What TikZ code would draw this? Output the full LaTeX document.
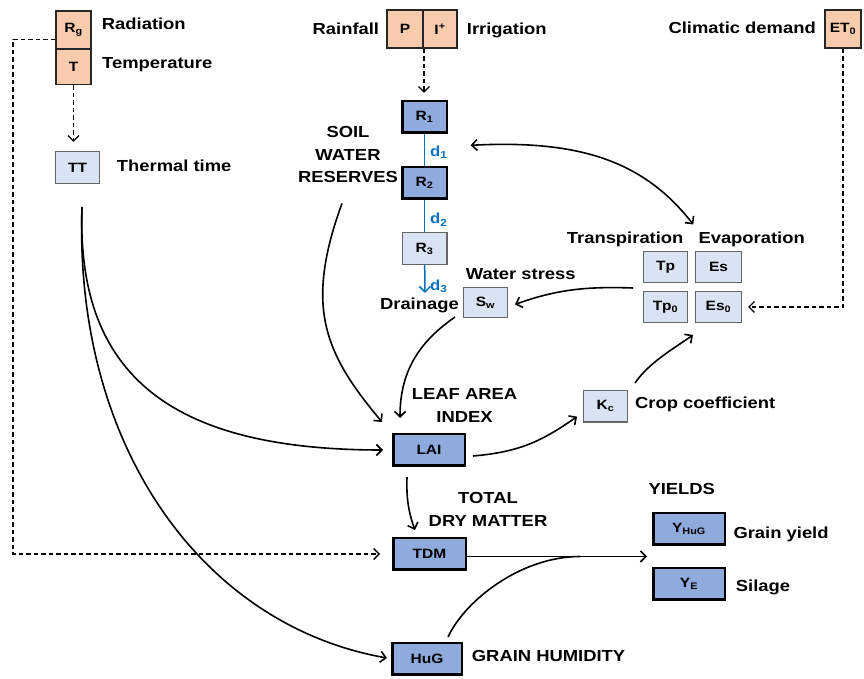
\documentclass[tikz,border=0pt]{standalone}
\usepackage{fontspec}
\setmainfont{Liberation Sans}[FakeStretch=1.15]
\usetikzlibrary{calc}
\usetikzlibrary{arrows.meta}
\usetikzlibrary{positioning}

\definecolor{climfill}{HTML}{F8CBAD}
\definecolor{statefill}{HTML}{8FAADC}
\definecolor{auxfill}{HTML}{DAE3F3}
\definecolor{drainblue}{HTML}{0070C0}

\newcommand{\lblfont}{\fontsize{16}{22.5}\selectfont\bfseries}
\newcommand{\boxfont}{\fontsize{13.5}{16}\selectfont\bfseries}
\newcommand{\dfont}{\fontsize{14.5}{16}\selectfont\bfseries}

\begin{document}
\begin{tikzpicture}[x=1pt, y=1pt,
        >={Straight Barb[length=5.5pt,width=11pt]},
        clim/.style={draw=black!85, fill=climfill, line width=1.7pt, font=\boxfont, inner sep=0pt},
        state/.style={draw=black, fill=statefill, line width=2.5pt, font=\boxfont, inner sep=0pt},
        aux/.style={draw=black!60, fill=auxfill, line width=1.2pt, font=\boxfont, inner sep=0pt},
        lbl/.style={font=\lblfont, inner sep=0pt, anchor=base west},
        lblc/.style={font=\lblfont, inner sep=0pt, align=center},
        dlbl/.style={font=\dfont, text=drainblue, inner sep=0pt, anchor=base west},
        link/.style={->, line width=1.6pt},
        feed/.style={->, dash pattern=on 4.5pt off 3pt, line width=1.4pt},
        water/.style={draw=drainblue, line width=1.5pt}]
    \useasboundingbox (0,0) rectangle (864,679);

    % Climate inputs
    \node[clim, minimum width=35.3, minimum height=37.8] (rg) at (73.5,648.75) {R\textsubscript{g}};
    \node[clim, minimum width=35.3, minimum height=35.3, below=-1.7pt of rg] (temp) {T};
    \node[clim, minimum width=36.3, minimum height=38.3] (rain) at (405,650) {P};
    \node[clim, minimum width=33.8, minimum height=38.3, right=-1.7pt of rain] (irr) {I\textsuperscript{+}};
    \node[clim, minimum width=36.3, minimum height=38.3] (et) at (843,650) {ET\textsubscript{0}};

    % Soil water reservoirs
    \node[state, minimum width=44.5, minimum height=31.5] (rone) at (424.5,562) {R\textsubscript{1}};
    \node[state, minimum width=44.5, minimum height=31.5, below=32pt of rone] (rtwo) {R\textsubscript{2}};
    \node[aux, minimum width=44.8, minimum height=31.8, below=32pt of rtwo] (rthree) {R\textsubscript{3}};

    % Auxiliary variables
    \node[aux, minimum width=43.8, minimum height=31.8] (tt) at (77.5,511.5) {TT};
    \node[aux, minimum width=43.8, minimum height=29.8] (sw) at (485.5,376.5) {S\textsubscript{w}};
    \node[aux, minimum width=43.8, minimum height=30.8] (tp) at (665.5,412) {Tp};
    \node[aux, minimum width=45.8, minimum height=30.8, right=7pt of tp] (es) {Es};
    \node[aux, minimum width=43.8, minimum height=30.8, below=8pt of tp] (tpz) {Tp\textsubscript{0}};
    \node[aux, minimum width=45.8, minimum height=30.8, below=8pt of es] (esz) {Es\textsubscript{0}};
    \node[aux, minimum width=43.8, minimum height=31.5] (kc) at (605.5,272.7) {K\textsubscript{c}};

    % Crop state variables
    \node[state, minimum width=71.5, minimum height=31.5] (lai) at (429,229) {LAI};
    \node[state, minimum width=72.5, minimum height=31.5] (tdm) at (429.5,125) {TDM};
    \node[state, minimum width=69.5, minimum height=31.5] (hug) at (427,20) {HuG};
    \node[state, minimum width=71.5, minimum height=31.5] (yhug) at (689,150) {Y\textsubscript{HuG}};
    \node[state, minimum width=71.5, minimum height=31.5, below=21pt of yhug] (ye) {Y\textsubscript{E}};

    % Labels
    \node[lbl] (rad) at (101.7,649.7) {Radiation};
    \node[lbl] (tmp) at (102,610.7) {Temperature};
    \node[lbl] (thermal) at (116.7,507.3) {Thermal time};
    \node[lbl, anchor=base east] (rainlbl) at (379.3,644) {Rainfall};
    \node[lbl] (irrlbl) at (466.7,644) {Irrigation};
    \node[lbl, anchor=base east] (demand) at (816,645.7) {Climatic demand};
    \node[lblc] (swr) at (348,524) {SOIL\\WATER\\RESERVES};
    \node[dlbl] (done) at (430,522.5) {d\textsubscript{1}};
    \node[dlbl] (dtwo) at (430,455) {d\textsubscript{2}};
    \node[dlbl] (dthree) at (430,388.3) {d\textsubscript{3}};
    \node[lbl, anchor=base east] (drainlbl) at (459,369) {Drainage};
    \node[lbl] (stress) at (465.7,399.7) {Water stress};
    \node[lbl] (transp) at (566.7,435.7) {Transpiration};
    \node[lbl] (evap) at (698.3,435.7) {Evaporation};
    \node[lbl] (crop) at (635,270.7) {Crop coefficient};
    \node[lblc] (leaf) at (464.5,273.5) {LEAF AREA\\INDEX};
    \node[lblc] (dry) at (488,169.8) {TOTAL\\DRY MATTER};
    \node[lbl] (humid) at (471.7,17.3) {GRAIN HUMIDITY};
    \node[lbl] (yields) at (648.3,184) {YIELDS};
    \node[lbl] (grain) at (733.3,140.7) {Grain yield};
    \node[lbl] (silage) at (735.7,87.3) {Silage};

    % Dashed climate links
    \coordinate (rail) at (13,0);
    \coordinate (rgout) at ([yshift=-9pt]rg.west);
    \draw[feed] (rgout) -- (rgout -| rail) -- (tdm.west -| rail) -- ([xshift=-12pt]tdm.west);
    \draw[feed, shorten >=9pt] (temp.south) -- (temp.south |- tt.north);
    \draw[feed, shorten >=7pt] (rain.south east) -- (rain.south east |- rone.north);
    \draw[feed, shorten >=6pt] (et.south) |- (esz.east);

    % Drainage between reservoirs
    \coordinate (drain) at (425,386);
    \draw[water] (rone) -- (rtwo);
    \draw[water] (rtwo) -- (rthree);
    \draw[water, ->] (rthree) -- (drain);

    % Water balance
    \draw[link, <->] ([xshift=23pt,yshift=7pt]done.east) .. controls +(3:110pt) and +(128:80pt) .. ([xshift=-5pt,yshift=7pt]evap.north west);
    \draw[link] ([xshift=-10pt,yshift=-5pt]tp.south west) .. controls +(178:45pt) and +(20:45pt) .. ([xshift=7pt,yshift=-2pt]sw.east);
    \draw[link] ([xshift=-8pt,yshift=1pt]sw.south west) .. controls +(215:40pt) and +(90:50pt) .. ([xshift=8pt,yshift=15pt]lai.north west);
    \draw[link] ([xshift=-6pt,yshift=-20pt]swr.south) .. controls +(250:110pt) and +(130:90pt) .. ([xshift=-10pt,yshift=11pt]lai.north west);

    % Thermal time drives LAI and HuG
    \coordinate (ttout) at ([xshift=4.5pt,yshift=-23pt]tt.south);
    \draw[link] (ttout) .. controls +(268:170pt) and +(180:210pt) .. ([xshift=-9pt]lai.west);
    \draw[link] (ttout) .. controls +(268:240pt) and +(170:187pt) .. ([xshift=-4pt,yshift=1pt]hug.west);

    % Crop growth
    \draw[link] ([xshift=-22pt,yshift=-10pt]lai.south) .. controls +(268:20pt) and +(110:20pt) .. ([xshift=-14.5pt,yshift=7pt]tdm.north);
    \draw[link] ([xshift=7pt,yshift=-6pt]lai.east) .. controls +(5:45pt) and +(215:45pt) .. ([xshift=-6pt,yshift=6pt]kc.south west);
    \draw[link] ([xshift=7pt,yshift=7pt]kc.north east) .. controls +(55:25pt) and +(215:25pt) .. ([xshift=5pt,yshift=-12pt]tpz.south east);

    % Yields
    \coordinate (yin) at ($(yhug.south west)!0.5!(ye.north west)+(-5,0)$);
    \coordinate (tdmout) at (tdm.east |- yin);
    \coordinate (merge) at ($(tdmout)!0.63!(yin)$);
    \draw[link] (tdmout) -- (yin);
    \draw[line width=1.6pt] ([xshift=21pt,yshift=5pt]hug.north) .. controls +(65:40pt) and +(180:60pt) .. (merge);
\end{tikzpicture}
\end{document}
